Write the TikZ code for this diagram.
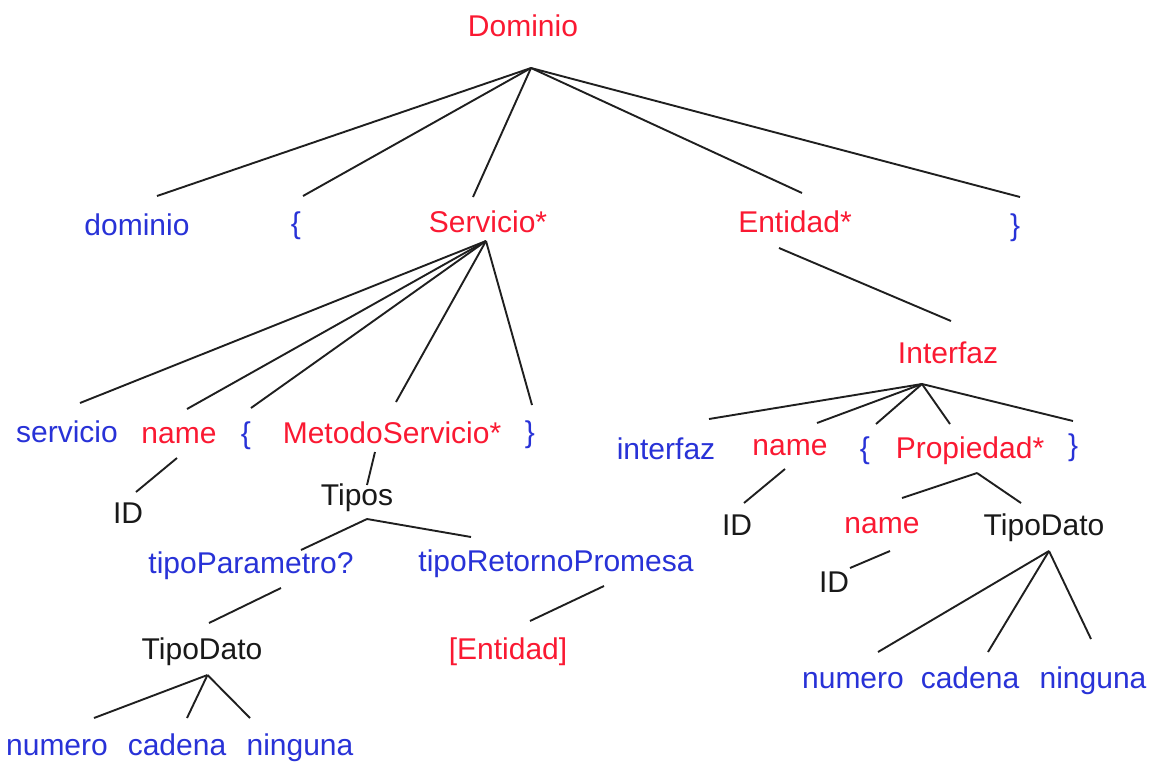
\documentclass[tikz,border=0pt]{standalone}
\usepackage{fontspec}
\setmainfont{Liberation Sans}
\definecolor{ntred}{RGB}{250,25,50}
\definecolor{tblue}{RGB}{40,50,215}
\definecolor{plain}{RGB}{25,25,25}
\begin{document}
\begin{tikzpicture}[x=1pt,y=-1pt,
  lbl/.style={inner sep=0pt,anchor=base,font=\fontsize{30}{36}\selectfont},
  nt/.style={lbl,text=ntred},
  tk/.style={lbl,text=tblue},
  pl/.style={lbl,text=plain},
  edge/.style={draw=black!88,line width=1.9pt}]
\useasboundingbox (0,0) rectangle (1154,763);

% ---- labels ----
\node[nt] (dom)   at (523,36)  {Dominio};
\node[tk] (kdom)  at (137,235) {dominio};
\node[tk] (lb1)   at (296,233) {\{};
\node[nt] (serv)  at (488,232) {Servicio*};
\node[nt] (ent)   at (795,232) {Entidad*};
\node[tk] (rb1)   at (1015,235) {\}};

\node[tk] (kserv) at (67,442)  {servicio};
\node[nt] (nm1)   at (179,443) {name};
\node[tk] (lb2)   at (246,443) {\{};
\node[nt] (met)   at (392,443) {MetodoServicio*};
\node[tk] (rb2)   at (530,442) {\}};
\node[pl] (id1)   at (128,523) {ID};
\node[pl] (tip)   at (357,505) {Tipos};
\node[tk] (tpar)  at (251,573) {tipoParametro?};
\node[tk] (tret)  at (556,571) {tipoRetornoPromesa};
\node[pl] (td1)   at (202,659) {TipoDato};
\node[nt] (lent)  at (508,659) {[Entidad]};
\node[tk] (num1)  at (57,755)  {numero};
\node[tk] (cad1)  at (177,755) {cadena};
\node[tk] (nin1)  at (300,755) {ninguna};

\node[nt] (intf)  at (948,363) {Interfaz};
\node[tk] (kint)  at (666,459) {interfaz};
\node[nt] (nm2)   at (790,455) {name};
\node[tk] (lb3)   at (865,458) {\{};
\node[nt] (prop)  at (970,458) {Propiedad*};
\node[tk] (rb3)   at (1073,455) {\}};
\node[pl] (id2)   at (737,535) {ID};
\node[nt] (nm3)   at (882,533) {name};
\node[pl] (td2)   at (1044,535) {TipoDato};
\node[pl] (id3)   at (834,592) {ID};
\node[tk] (num2)  at (853,688) {numero};
\node[tk] (cad2)  at (970,688) {cadena};
\node[tk] (nin2)  at (1093,688) {ninguna};

% ---- branch points under each parent ----
\coordinate (dom-j)  at (531,68);
\coordinate (serv-j) at (486,241);
\coordinate (ent-j)  at (779,248);
\coordinate (intf-j) at (922,384);
\coordinate (nm1-j)  at (177,458);
\coordinate (met-j)  at (375,452);
\coordinate (tip-j)  at (367,519);
\coordinate (tpar-j) at (281,588);
\coordinate (tret-j) at (604,586);
\coordinate (td1-j)  at (207.5,675);
\coordinate (nm2-j)  at (785,469);
\coordinate (prop-j) at (977,473);
\coordinate (nm3-j)  at (890,551);
\coordinate (td2-j)  at (1049,551);

% ---- line ends above each child ----
\coordinate (kdom-t)  at (157,196);
\coordinate (lb1-t)   at (303,196);
\coordinate (serv-t)  at (473,197);
\coordinate (ent-t)   at (802,193);
\coordinate (rb1-t)   at (1020,197);
\coordinate (kserv-t) at (80,403);
\coordinate (nm1-t)   at (187,409);
\coordinate (lb2-t)   at (251,408);
\coordinate (met-t)   at (396,402);
\coordinate (rb2-t)   at (532,405);
\coordinate (intf-t)  at (951,321);
\coordinate (kint-t)  at (709,419);
\coordinate (nm2-t)   at (817,423);
\coordinate (lb3-t)   at (876,424);
\coordinate (prop-t)  at (950,424);
\coordinate (rb3-t)   at (1073,421);
\coordinate (id1-t)   at (136,492);
\coordinate (tip-t)   at (367,485);
\coordinate (tpar-t)  at (301,550);
\coordinate (tret-t)  at (471,537);
\coordinate (td1-t)   at (209,623);
\coordinate (lent-t)  at (530,621);
\coordinate (num1-t)  at (94,718);
\coordinate (cad1-t)  at (187,718);
\coordinate (nin1-t)  at (250,718);
\coordinate (id2-t)   at (744,503);
\coordinate (nm3-t)   at (902,498);
\coordinate (td2-t)   at (1021,503);
\coordinate (id3-t)   at (850,568);
\coordinate (num2-t)  at (878,652);
\coordinate (cad2-t)  at (988,652);
\coordinate (nin2-t)  at (1091,639);

% ---- tree edges ----
\foreach \c in {kdom,lb1,serv,ent,rb1} \draw[edge] (dom-j) -- (\c-t);
\foreach \c in {kserv,nm1,lb2,met,rb2} \draw[edge] (serv-j) -- (\c-t);
\draw[edge] (ent-j) -- (intf-t);
\foreach \c in {kint,nm2,lb3,prop,rb3} \draw[edge] (intf-j) -- (\c-t);
\draw[edge] (nm1-j) -- (id1-t);
\draw[edge] (met-j) -- (tip-t);
\foreach \c in {tpar,tret} \draw[edge] (tip-j) -- (\c-t);
\draw[edge] (tpar-j) -- (td1-t);
\draw[edge] (tret-j) -- (lent-t);
\foreach \c in {num1,cad1,nin1} \draw[edge] (td1-j) -- (\c-t);
\draw[edge] (nm2-j) -- (id2-t);
\foreach \c in {nm3,td2} \draw[edge] (prop-j) -- (\c-t);
\draw[edge] (nm3-j) -- (id3-t);
\foreach \c in {num2,cad2,nin2} \draw[edge] (td2-j) -- (\c-t);
\end{tikzpicture}
\end{document}
